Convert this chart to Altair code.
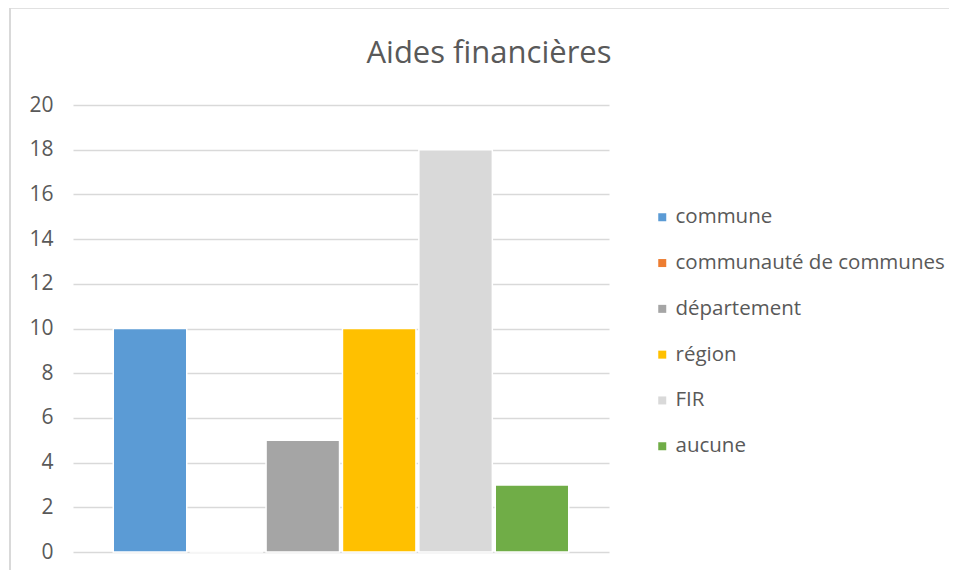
import altair as alt
import pandas as pd

categories = ["commune", "communauté de communes", "département", "région", "FIR", "aucune"]
values = [10, 0, 5, 10, 18, 3]
colors = ["#5B9BD5", "#ED7D31", "#A5A5A5", "#FFC000", "#D9D9D9", "#70AD47"]
y_ticks = [0, 2, 4, 6, 8, 10, 12, 14, 16, 18, 20]
title_text = "Aides financières"

df = pd.DataFrame({"source": categories, "value": values})

FONT = "Open Sans"
TXT = "#595959"
GRID = "#D9D9D9"

bars = alt.Chart(df).mark_bar(stroke="white", strokeWidth=1.5).encode(
    x=alt.X("source:N", sort=categories, axis=None,
            scale=alt.Scale(paddingInner=0.038, paddingOuter=0.527)),
    y=alt.Y("value:Q", title=None,
            scale=alt.Scale(domain=[0, 20], nice=False),
            axis=alt.Axis(values=y_ticks, domain=False, ticks=False, grid=True,
                          gridColor=GRID, gridWidth=1.3, labelFont=FONT,
                          labelFontSize=21, labelColor=TXT, labelPadding=20)),
    color=alt.Color("source:N", sort=categories,
                    scale=alt.Scale(domain=categories, range=colors),
                    legend=alt.Legend(title=None, orient="none", legendX=579, legendY=102,
                                      symbolType="square", symbolSize=64,
                                      symbolStrokeWidth=0, labelFont=FONT,
                                      labelFontSize=20.5, labelColor=TXT, labelLimit=0,
                                      rowPadding=24.8, padding=0, labelOffset=3)),
)

title = alt.Chart(pd.DataFrame({"t": [title_text]})).mark_text(
    font=FONT, fontSize=31, color=TXT, align="center", baseline="alphabetic"
).encode(x=alt.value(416), y=alt.value(-42), text="t:N")

border_left = alt.Chart(df).mark_rule(color=GRID, strokeWidth=1.5, clip=False).encode(
    x=alt.value(-63), y=alt.value(-97), y2=alt.value(480))
border_top = alt.Chart(df).mark_rule(color=GRID, strokeWidth=1.5, clip=False).encode(
    x=alt.value(-63), x2=alt.value(890), y=alt.value(-97.5))

chart = alt.layer(bars, title, border_left, border_top).properties(
    width=536, height=447,
    autosize=alt.AutoSizeParams(type="none"),
    padding={"left": 65, "top": 97, "right": 340, "bottom": 18},
).configure_view(stroke=None)

chart.save("out.html", embed_options={"renderer": "svg", "actions": False})
